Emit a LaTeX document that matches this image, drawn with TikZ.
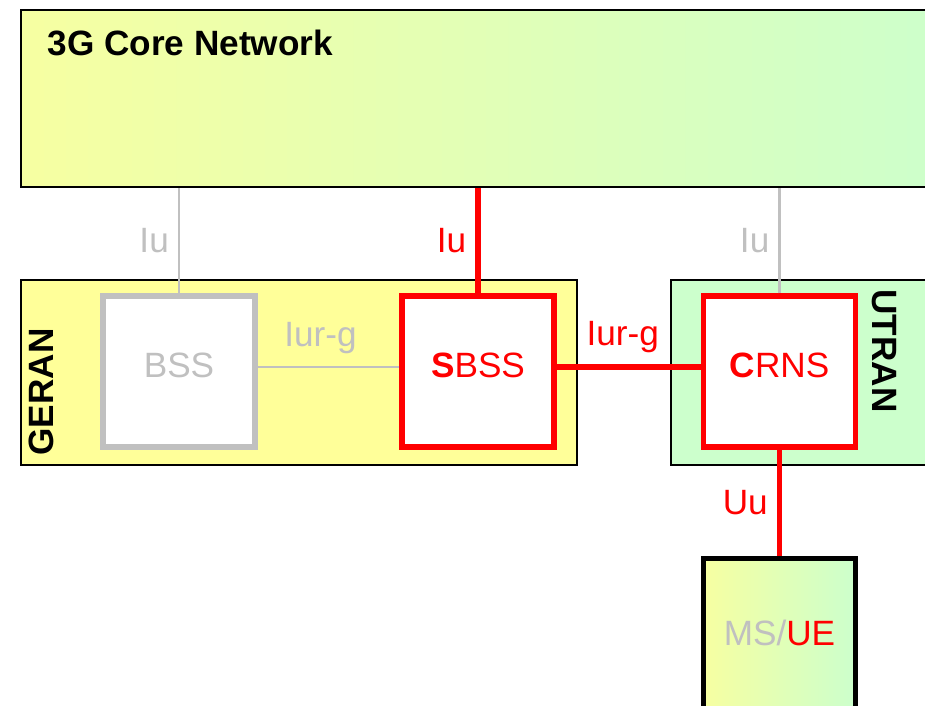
\documentclass[tikz,border=0pt]{standalone}
\usepackage{fontspec}
\setmainfont{Liberation Sans}

\definecolor{cnyellow}{HTML}{FFFF99}
\definecolor{cngreen}{HTML}{CCFFCC}
\definecolor{cngray}{HTML}{C0C0C0}
\definecolor{cnred}{HTML}{FF0000}
\pgfdeclarehorizontalshading{netfade}{100bp}{color(0bp)=(cnyellow); color(15bp)=(cnyellow); color(75bp)=(cngreen); color(100bp)=(cngreen)}

\begin{document}
\begin{tikzpicture}[x=0.01cm,y=-0.01cm,font=\fontsize{10}{12}\selectfont,
  area/.style={draw=black,line width=0.6pt,inner sep=0pt,anchor=north west},
  netbox/.style={draw,line width=1.5pt,fill=white,inner sep=0pt,
    minimum width=1.52cm,minimum height=1.51cm,text depth=0.12cm},
  thinlink/.style={draw=cngray,line width=0.6pt},
  redlink/.style={draw=cnred,line width=1.5pt},
  iflabel/.style={inner sep=2.6pt},
  boldtext/.style={font=\fontsize{10}{12}\selectfont\bfseries}]
  \useasboundingbox (0,0) rectangle (925,705);
  \clip (0,0) rectangle (925,705);

  % Core network and radio access areas
  \node[area,shade,shading=netfade,minimum width=9.4cm,minimum height=1.77cm] (core) at (20,9) {};
  \node[boldtext,anchor=west,inner sep=0pt] (coretitle) at (47,43) {3G Core Network};
  \node[area,fill=cnyellow,minimum width=5.56cm,minimum height=1.85cm] (geran) at (20,279) {};
  \node[area,fill=cngreen,minimum width=3cm,minimum height=1.85cm] (utran) at (670,279) {};
  \node[boldtext,rotate=90] (geranlabel) at (41,392) {GERAN};
  \node[boldtext,rotate=-90] (utranlabel) at (884,351) {UTRAN};

  % Network elements
  \node[netbox,draw=cngray,text=cngray] (bss) at (179,371.5) {BSS};
  \node[netbox,draw=cnred,text=cnred] (sbss) at (478,371.5) {\textbf{S}BSS};
  \node[netbox,draw=cnred,text=cnred] (crns) at (779.5,371.5) {\textbf{C}RNS};
  \node[netbox,draw=black,shade,shading=netfade,anchor=north,minimum height=1.6cm] (msue) at (779.5,556)
    {\textcolor{cngray}{MS/}\textcolor{cnred}{UE}};

  % Iu interfaces
  \draw[thinlink] (bss.north) -- (bss.north |- core.south) node[iflabel,midway,left,text=cngray] (iubss) {Iu};
  \draw[redlink] (sbss.north) -- (sbss.north |- core.south) node[iflabel,midway,left,text=cnred] (iusbss) {Iu};
  \draw[thinlink] (crns.north) -- (crns.north |- core.south) node[iflabel,midway,left,text=cngray] (iucrns) {Iu};

  % Iur-g and Uu
  \draw[thinlink] ([yshift=0.045cm]bss.east) -- ([yshift=0.045cm]sbss.west)
    node[midway,above,xshift=-0.08cm,text=cngray] (iurbss) {Iur-g};
  \draw[redlink] ([yshift=0.045cm]sbss.east) -- ([yshift=0.045cm]crns.west)
    node[midway,above,xshift=-0.06cm,text=cnred] (iursbss) {Iur-g};
  \draw[redlink] (crns.south) -- (msue.north) node[iflabel,midway,left,text=cnred] (uu) {Uu};
\end{tikzpicture}
\end{document}
